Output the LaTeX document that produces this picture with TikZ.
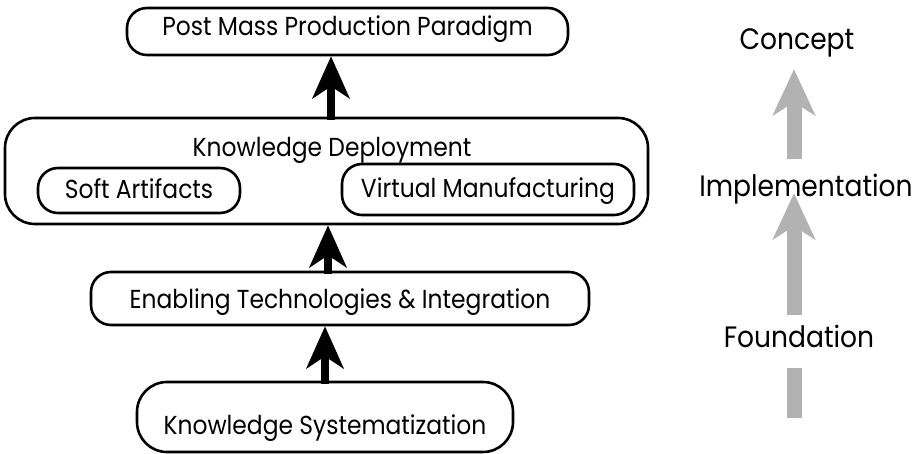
\documentclass[tikz,border=0pt]{standalone}
\usepackage{fontspec}
\setmainfont{Poppins}[FakeStretch=0.9]
\usetikzlibrary{arrows.meta,calc}
\begin{document}
\begin{tikzpicture}[x=1pt,y=-1pt,
  pill/.style={draw=black, line width=2.6pt, rounded corners=#1, inner sep=0pt,
    font=\fontsize{26}{30}\selectfont, text height=23pt, text depth=6pt},
  pill/.default=20pt,
  lbl/.style={inner sep=0pt, font=\fontsize{26}{30}\selectfont,
    text height=23pt, text depth=6pt},
  stage/.style={inner sep=0pt, font=\fontsize{29.5}{36}\selectfont,
    text height=21pt, text depth=0pt},
  bigarrow/.style={line width=8pt, draw=black,
    -{Stealth[length=42pt, width=37pt, inset=12pt]}},
  grayarrow/.style={line width=15pt, draw=black!30,
    -{Stealth[length=46pt, width=42pt, inset=13pt]}},
  grayshaft/.style={line width=15pt, draw=black!30}]
\useasboundingbox (0,0) rectangle (914,454);

% main column of stages
\node[pill, minimum width=441pt, minimum height=47pt, text height=19pt, text depth=10pt]
  (top) at (347.5,31.5) {Post Mass Production Paradigm};
\node[pill=30pt, minimum width=643pt, minimum height=106pt] (kd) at (326.5,171) {};
\node[lbl] (kdt) at (332,148) {Knowledge Deployment};
\node[pill, minimum width=202pt, minimum height=45pt] (soft) at (139,190.5)
  {Soft Artifacts};
\node[pill, minimum width=292pt, minimum height=51pt] (virt) at (488,189.5)
  {Virtual Manufacturing};
\node[pill, minimum width=498pt, minimum height=53pt, text height=27pt]
  (enab) at (340,298.5) {Enabling Technologies \& Integration};
\node[pill=30pt, minimum width=376pt, minimum height=70pt, text height=42pt]
  (sys) at (325,417) {Knowledge Systematization};

% black arrows between stages
\coordinate (a1) at (331,0);
\coordinate (a2) at (328,0);
\coordinate (a3) at (325,0);
\draw[bigarrow] (kd.north -| a1) ++(0,3) -- (top.south -| a1);
\draw[bigarrow] (enab.north -| a2) ++(0,3) -- (kd.south -| a2);
\draw[bigarrow] (sys.north -| a3) ++(0,3) -- (enab.south -| a3);

% levels on the right
\node[stage] (concept) at (797,39) {Concept};
\node[stage] (impl) at (806,186) {Implementation};
\node[stage] (found) at (799,337.5) {Foundation};
\coordinate (g) at (794,0);
\coordinate (gbot) at (794,418);
\draw[grayarrow] ($(impl.north -| g)+(0,-16.5)$) -- ($(concept.south -| g)+(0,19.5)$);
\draw[grayarrow] ($(found.north -| g)+(0,-11.5)$) -- ($(impl.south -| g)+(0,-3.5)$);
\draw[grayshaft] (gbot) -- ($(found.south -| g)+(0,19.5)$);
\end{tikzpicture}
\end{document}
